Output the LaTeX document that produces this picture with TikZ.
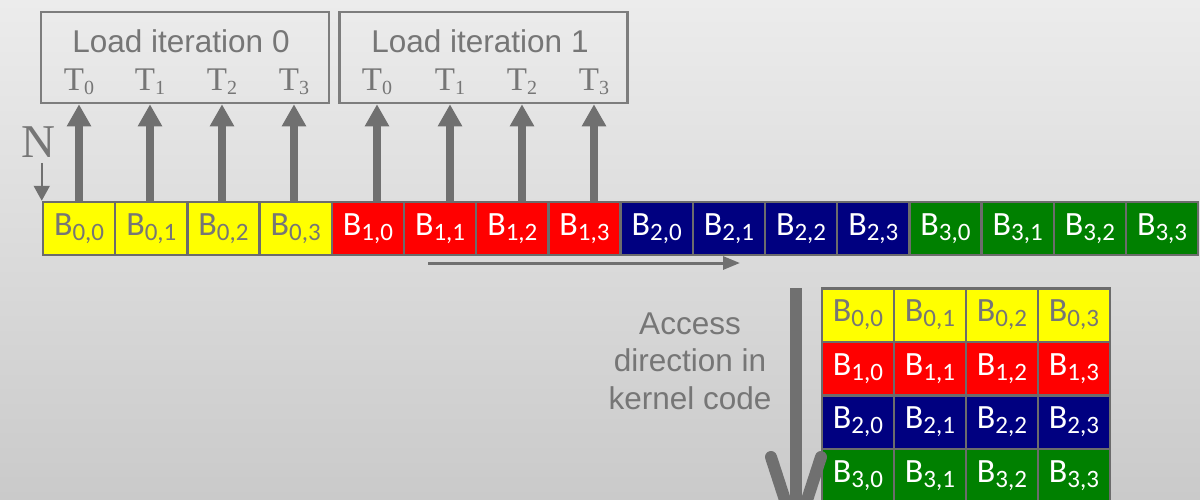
\documentclass[tikz,border=0pt]{standalone}
\usepackage{fontspec}
\setmainfont{Liberation Sans}
\newfontfamily\cellfont{Carlito}
\newfontfamily\serfont{Liberation Serif}
\usetikzlibrary{arrows.meta}

\definecolor{bgtop}{RGB}{236,236,236}
\definecolor{bgbot}{RGB}{202,202,202}
\definecolor{arrowgray}{RGB}{112,112,112}
\definecolor{textgray}{RGB}{118,118,118}
\definecolor{boxgray}{RGB}{125,125,125}
\definecolor{cellgray}{RGB}{108,108,108}
\definecolor{cyellow}{RGB}{255,255,0}
\definecolor{cred}{RGB}{255,0,0}
\definecolor{cnavy}{RGB}{0,0,128}
\definecolor{cgreen}{RGB}{0,128,0}

\newcommand{\blk}[1]{B\raisebox{-5pt}{\fontsize{25}{25}\selectfont #1}}
\newcommand{\thr}[1]{T\raisebox{-4pt}{\fontsize{20}{20}\selectfont #1}}

\tikzset{
  blk/.style={draw=cellgray, line width=2.5pt, minimum width=72.2pt,
    minimum height=53pt, inner sep=0pt, text=white,
    font=\cellfont\fontsize{34}{34}\selectfont},
  yblk/.style={blk, fill=cyellow, text=textgray},
  rblk/.style={blk, fill=cred},
  nblk/.style={blk, fill=cnavy},
  gblk/.style={blk, fill=cgreen},
  iterbox/.style={draw=boxgray, line width=2.5pt, minimum width=288pt,
    minimum height=91pt, inner sep=0pt},
  iterlabel/.style={anchor=base, text=textgray, font=\fontsize{31.5}{31.5}\selectfont},
  thread/.style={anchor=base, text=textgray, font=\serfont\fontsize{33}{33}\selectfont},
  load/.style={draw=arrowgray, line width=8pt, -{Triangle[width=23pt,length=22pt]}},
  nmark/.style={draw=arrowgray, line width=2pt, -{Triangle[width=16pt,length=15pt]}},
  scan/.style={draw=arrowgray, line width=3pt, -{Triangle[width=13pt,length=17pt]}},
  access/.style={draw=arrowgray, line width=12pt,
    -{Straight Barb[length=77pt,width=50pt,round]}},
}

\begin{document}
\begin{tikzpicture}[x=1pt, y=-1pt]
  \shade[top color=bgtop, bottom color=bgbot] (0,0) rectangle (1200,499);
  \useasboundingbox (0,0) rectangle (1200,499);

  % load iterations
  \node[iterbox] (it0) at (185,57.5) {};
  \node[iterbox] (it1) at (483.5,57.5) {};
  \node[iterlabel] (lab0) at (181,52) {Load iteration 0};
  \node[iterlabel] (lab1) at (480,52) {Load iteration 1};
  \node[thread] (t00) at (79,90) {\thr{0}};
  \node[thread] (t01) at (150,90) {\thr{1}};
  \node[thread] (t02) at (222,90) {\thr{2}};
  \node[thread] (t03) at (294,90) {\thr{3}};
  \node[thread] (t10) at (377,90) {\thr{0}};
  \node[thread] (t11) at (450,90) {\thr{1}};
  \node[thread] (t12) at (522,90) {\thr{2}};
  \node[thread] (t13) at (594,90) {\thr{3}};

  % linear layout
  \node[yblk] (r00) at (79.1,228.5) {\blk{0,0}};
  \node[yblk] (r01) at (151.3,228.5) {\blk{0,1}};
  \node[yblk] (r02) at (223.5,228.5) {\blk{0,2}};
  \node[yblk] (r03) at (295.7,228.5) {\blk{0,3}};
  \node[rblk] (r10) at (367.9,228.5) {\blk{1,0}};
  \node[rblk] (r11) at (440.1,228.5) {\blk{1,1}};
  \node[rblk] (r12) at (512.3,228.5) {\blk{1,2}};
  \node[rblk] (r13) at (584.5,228.5) {\blk{1,3}};
  \node[nblk] (r20) at (656.7,228.5) {\blk{2,0}};
  \node[nblk] (r21) at (728.9,228.5) {\blk{2,1}};
  \node[nblk] (r22) at (801.1,228.5) {\blk{2,2}};
  \node[nblk] (r23) at (873.3,228.5) {\blk{2,3}};
  \node[gblk] (r30) at (945.5,228.5) {\blk{3,0}};
  \node[gblk] (r31) at (1017.7,228.5) {\blk{3,1}};
  \node[gblk] (r32) at (1089.9,228.5) {\blk{3,2}};
  \node[gblk] (r33) at (1162.1,228.5) {\blk{3,3}};

  \draw[load] (t00 |- r00.north) -- (t00 |- it0.south);
  \draw[load] (t01 |- r01.north) -- (t01 |- it0.south);
  \draw[load] (t02 |- r02.north) -- (t02 |- it0.south);
  \draw[load] (t03 |- r03.north) -- (t03 |- it0.south);
  \draw[load] (t10 |- r10.north) -- (t10 |- it1.south);
  \draw[load] (t11 |- r11.north) -- (t11 |- it1.south);
  \draw[load] (t12 |- r12.north) -- (t12 |- it1.south);
  \draw[load] (t13 |- r13.north) -- (t13 |- it1.south);

  \node[anchor=base, text=textgray, font=\serfont\fontsize{47}{47}\selectfont]
    (nlab) at (38,157) {N};
  \draw[nmark] ([yshift=38pt]r00.north west) -- (r00.north west);

  \coordinate (hs) at (428,263);
  \coordinate (he) at (740,263);
  \draw[scan] (hs) -- (he);

  % 2D layout
  \node[yblk, minimum height=53.5pt] (g00) at (858,315) {\blk{0,0}};
  \node[yblk, minimum height=53.5pt] (g01) at (930,315) {\blk{0,1}};
  \node[yblk, minimum height=53.5pt] (g02) at (1002,315) {\blk{0,2}};
  \node[yblk, minimum height=53.5pt] (g03) at (1074,315) {\blk{0,3}};
  \node[rblk, minimum height=53.5pt] (g10) at (858,368.5) {\blk{1,0}};
  \node[rblk, minimum height=53.5pt] (g11) at (930,368.5) {\blk{1,1}};
  \node[rblk, minimum height=53.5pt] (g12) at (1002,368.5) {\blk{1,2}};
  \node[rblk, minimum height=53.5pt] (g13) at (1074,368.5) {\blk{1,3}};
  \node[nblk, minimum height=53.5pt] (g20) at (858,422) {\blk{2,0}};
  \node[nblk, minimum height=53.5pt] (g21) at (930,422) {\blk{2,1}};
  \node[nblk, minimum height=53.5pt] (g22) at (1002,422) {\blk{2,2}};
  \node[nblk, minimum height=53.5pt] (g23) at (1074,422) {\blk{2,3}};
  \node[gblk, minimum height=53.5pt] (g30) at (858,475.5) {\blk{3,0}};
  \node[gblk, minimum height=53.5pt] (g31) at (930,475.5) {\blk{3,1}};
  \node[gblk, minimum height=53.5pt] (g32) at (1002,475.5) {\blk{3,2}};
  \node[gblk, minimum height=53.5pt] (g33) at (1074,475.5) {\blk{3,3}};

  \coordinate (vs) at (796,288);
  \coordinate (ve) at (796,540);
  \draw[access] (vs) -- (ve);
  \node[anchor=base, align=center, text=textgray,
    font=\fontsize{31.5}{37.5}\selectfont] (acc) at (690,409)
    {Access\\direction in\\kernel code};
\end{tikzpicture}
\end{document}
